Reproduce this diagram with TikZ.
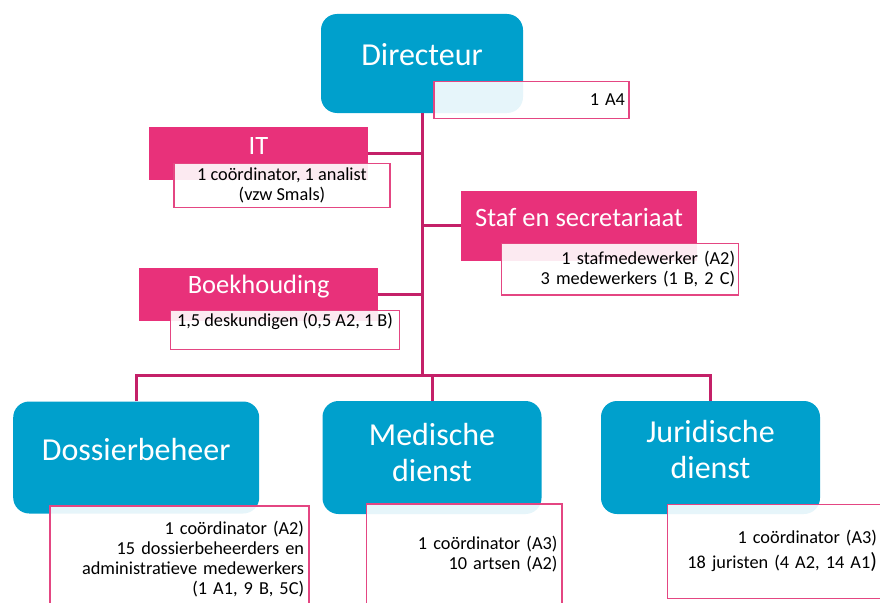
\documentclass[tikz,border=0pt]{standalone}
\usepackage{fontspec}
\setmainfont{Carlito}
\usetikzlibrary{positioning}

\definecolor{dienstblauw}{RGB}{0,160,204}
\definecolor{celroze}{RGB}{232,49,122}
\definecolor{lijnroze}{RGB}{196,32,104}
\definecolor{randroze}{RGB}{228,70,130}

\begin{document}
\begin{tikzpicture}
        [x=1pt,y=-1pt,
        dienst/.style={fill=dienstblauw, text=white, inner sep=0pt, rounded corners=16pt,
            font=\fontsize{32}{36}\selectfont, align=center},
        cel/.style={fill=celroze, text=white, inner sep=0pt, font=\fontsize{26.5}{30}\selectfont},
        info/.style={draw=randroze, line width=1.5pt, fill=white, fill opacity=0.9, text opacity=1,
            text=black, font=\fontsize{18.3}{20}\selectfont},
        lijn/.style={draw=lijnroze, line width=3pt}]
        \useasboundingbox (0,0) rectangle (880,602);
        \clip (0,0) rectangle (880,602);

        % directie en stafdiensten
        \node[dienst, minimum width=202pt, minimum height=99pt, text depth=17.6pt] (dir) at (422,63.5) {Directeur};
        \node[cel, minimum width=219pt, minimum height=53pt, text depth=16pt] (it) at (258.5,153.5) {IT};
        \node[cel, minimum width=236pt, minimum height=70pt, text depth=17.5pt] (staf) at (579,225.8) {Staf en secretariaat};
        \node[cel, minimum width=239pt, minimum height=53pt, text depth=18.7pt] (boek) at (258.7,294) {Boekhouding};

        % diensten
        \node[dienst, minimum width=246pt, minimum height=112pt, text depth=16.4pt] (dos) at (136.2,457.5) {Dossierbeheer};
        \node[dienst, minimum width=219pt, minimum height=113pt] (med) at (432,457.5) {Medische\\dienst\rule[-11pt]{0pt}{0pt}};
        \node[dienst, minimum width=219pt, minimum height=113pt] (jur) at (710.5,457.5) {Juridische\\dienst\rule[-15.8pt]{0pt}{0pt}};

        % personeel
        \node[info, text width=187pt, inner xsep=4pt, minimum height=36.6pt, align=right] (dirinfo) at (531.5,100) {1 A4};
        \node[info, minimum width=216pt, minimum height=44pt, align=center] (itinfo) at (282,185.3) {1 coördinator, 1 analist\\(vzw Smals)};
        \node[info, text width=230pt, inner xsep=3.3pt, minimum height=51.7pt, align=right] (stafinfo) at (620,269.2) {1 stafmedewerker (A2)\\3 medewerkers (1 B, 2 C)};
        \node[info, minimum width=228.6pt, minimum height=38.6pt, text depth=19.4pt, align=center] (boekinfo) at (285,330) {1,5 deskundigen (0,5 A2, 1 B)};
        \node[info, anchor=north west, text width=249pt, inner xsep=5pt, inner ysep=14.7pt, align=right] (dosinfo) at (49.3,505.3)
            {1 coördinator (A2)\\15 dossierbeheerders en\\administratieve medewerkers\\(1 A1, 9 B, 5C)};
        \node[info, anchor=north west, text width=186.7pt, inner xsep=4.3pt, inner ysep=32pt, align=right] (medinfo) at (365.7,503.3)
            {1 coördinator (A3)\\10 artsen (A2)};
        \node[info, text width=204.7pt, inner xsep=5pt, minimum height=94pt, align=right] (jurinfo) at (774.6,551.3)
            {1 coördinator (A3)\\[5pt]18 juristen (4 A2, 14 A1{\fontsize{22}{25}\selectfont )}};

        % verbindingen
        \coordinate (splits) at (422,375);
        \draw[lijn] (dir.south) -- (dir.south |- splits);
        \draw[lijn] (it.east) -- (it.east -| dir.south);
        \draw[lijn] (staf.west) -- (staf.west -| dir.south);
        \draw[lijn] (boek.east) -- (boek.east -| dir.south);
        \draw[lijn] (dos.north) |- (splits) -| (jur.north);
        \draw[lijn] (med.north) -- (med.north |- splits);
\end{tikzpicture}
\end{document}
